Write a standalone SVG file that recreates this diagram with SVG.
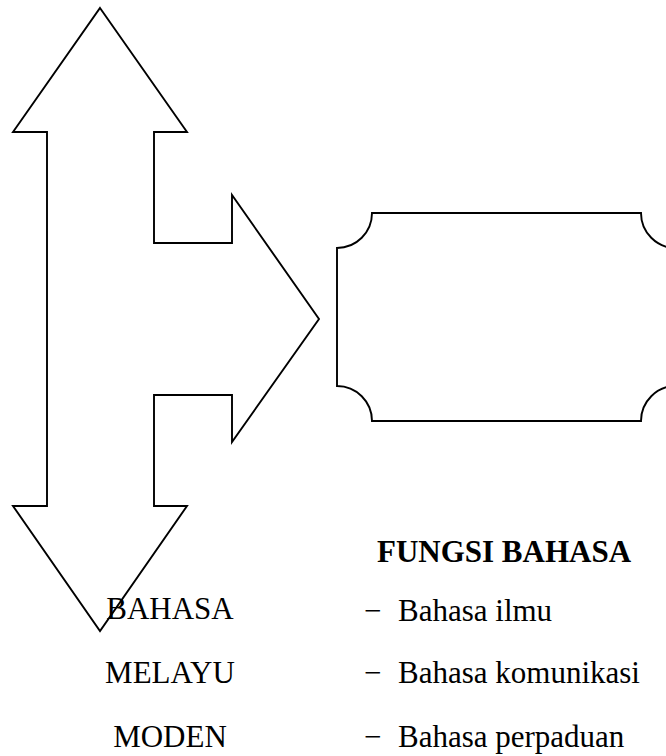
<svg xmlns="http://www.w3.org/2000/svg" width="666" height="756" viewBox="0 0 666 756">
<style>
.shape{fill:#fff;stroke:#000;stroke-width:1.9;stroke-linejoin:miter}
.t{font-family:"Liberation Serif","Times New Roman",serif;font-size:31px;fill:#000}
.b{font-weight:bold}
</style>
<rect width="666" height="756" fill="#fff"/>
<g id="arrow">
<path class="shape" d="M100,8 L187,132 L154,132 L154,243 L232,243 L232,195 L319,319 L232,442 L232,395 L154,395 L154,506 L187,506 L100,631 L13,506 L47,506 L47,132 L13,132 Z"/>
</g>
<g id="plaque">
<path class="shape" d="M372,213 L641,213 A35,35 0 0 0 676,248 L676,386 A35,35 0 0 0 641,421 L372,421 A35,35 0 0 0 337,386 L337,248 A35,35 0 0 0 372,213 Z"/>
</g>
<g id="label-left">
<text class="t" x="170" y="619" text-anchor="middle">BAHASA</text>
<text class="t" x="170" y="683" text-anchor="middle">MELAYU</text>
<text class="t" x="170" y="747" text-anchor="middle">MODEN</text>
</g>
<g id="fungsi">
<text class="t b" x="504" y="562" text-anchor="middle">FUNGSI BAHASA</text>
<text class="t" x="364" y="621">−</text>
<text class="t" x="398" y="621">Bahasa ilmu</text>
<text class="t" x="364" y="683">−</text>
<text class="t" x="398" y="683">Bahasa komunikasi</text>
<text class="t" x="364" y="747">−</text>
<text class="t" x="398" y="747">Bahasa perpaduan</text>
</g>
</svg>
